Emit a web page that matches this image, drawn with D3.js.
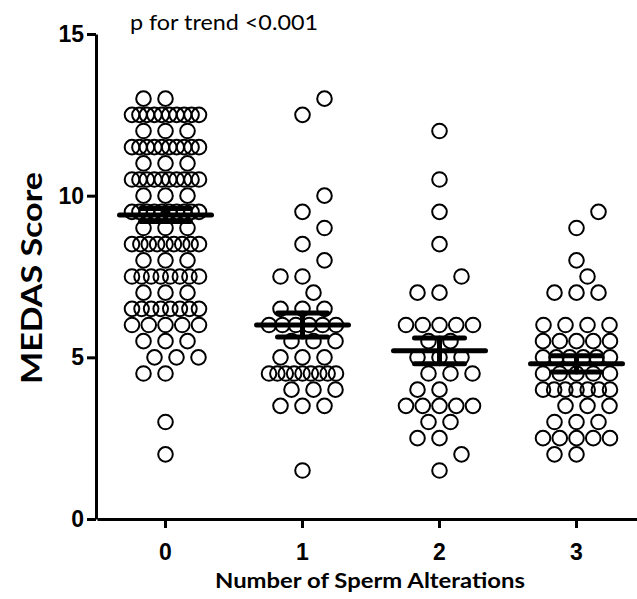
<!DOCTYPE html>
<html>
<head>
<meta charset="utf-8">
<script src="https://cdn.jsdelivr.net/npm/d3@7"></script>
<style>
  html, body { margin: 0; padding: 0; background: #fff; }
  svg { display: block; }
</style>
</head>
<body>
<svg id="chart" width="637" height="599"></svg>
<script>
// Categories on the x axis
const categories = ['0', '1', '2', '3'];

// MEDAS scores per group, as value -> number of subjects at that value
const group0 = [[13, 2], [12.5, 10], [12, 3], [11.5, 10], [11, 3], [10.5, 10], [10, 3], [9.5, 10],
    [9, 3], [8.5, 9], [8, 3], [7.5, 8], [7, 3], [6.5, 8], [6, 5], [5.5, 3], [5, 3], [4.5, 2], [3, 1], [2, 1]];
const group1 = [[13, 1], [12.5, 1], [10, 1], [9.5, 1], [9, 1], [8.5, 1], [8, 1], [7.5, 2], [7, 1],
    [6.5, 3], [6, 6], [5.5, 3], [5, 3], [4.5, 9], [4, 3], [3.5, 3], [1.5, 1]];
const group2 = [[12, 1], [10.5, 1], [9.5, 1], [8.5, 1], [7.5, 1], [7, 2], [6, 5], [5.5, 2], [5, 3],
    [4.5, 3], [4, 2], [3.5, 5], [3, 2], [2.5, 2], [2, 1], [1.5, 1]];
const group3 = [[9.5, 1], [9, 1], [8, 1], [7.5, 1], [7, 3], [6, 4], [5.5, 5], [5, 6], [4.5, 5],
    [4, 7], [3.5, 3], [3, 3], [2.5, 5], [2, 2]];
const groups = [group0, group1, group2, group3];

// Mean and SEM
const means = [9.4, 6.0, 5.2, 4.8];
const sems = [0.2, 0.37, 0.4, 0.25];

const yTicks = [0, 5, 10, 15];

const svg = d3.select('#chart');

const x = d3.scaleBand()
    .domain(categories)
    .range([97, 645]);

const y = d3.scaleLinear()
    .domain([0, 15])
    .range([519, 34]);

// Row based scatter layout, similar to Prism's column scatter
function layoutGroup(rows, cx) {
    const slot = 22;
    const maxSpan = 67;
    const minDist = 18;
    const sorted = rows.slice().sort((a, b) => a[0] - b[0]);
    const points = [];
    let prev = [];
    sorted.forEach(([v, k]) => {
        const py = y(v);
        let offs;
        if (k <= 3) {
            // odd counts centred, even counts one slot to the left
            const base = d3.range(k).map(i =>
                (k % 2 ? i - (k - 1) / 2 : i - k / 2) * slot);
            const shifts = [0, slot, -slot, slot / 2, -slot / 2];
            let chosen = 0;
            for (const s of shifts) {
                const ok = base.every(o => prev.every(p =>
                    Math.hypot(cx + o + s - p.x, py - p.y) >= minDist));
                if (ok) { chosen = s; break; }
            }
            offs = base.map(o => o + chosen);
        } else {
            const sp = Math.min(slot, maxSpan / (k - 1));
            offs = d3.range(k).map(i => (i - (k - 1) / 2) * sp);
        }
        const row = offs.map(o => ({ x: cx + o, y: py, v: v }));
        row.forEach(p => points.push(p));
        prev = row;
    });
    return points;
}

const allPoints = [];
groups.forEach((rows, gi) => {
    const cx = x(categories[gi]) + x.bandwidth() / 2;
    layoutGroup(rows, cx).forEach(p => allPoints.push(p));
});

// Points
svg.append('g')
    .selectAll('circle')
    .data(allPoints)
    .enter()
    .append('circle')
    .attr('cx', d => d.x)
    .attr('cy', d => d.y)
    .attr('r', 7.3)
    .attr('fill', 'none')
    .attr('stroke', '#000')
    .attr('stroke-width', 2);

// Mean and SEM bars
const stats = categories.map((c, i) => ({ cat: c, mean: means[i], sem: sems[i] }));
const barG = svg.append('g')
    .attr('stroke', '#000')
    .attr('stroke-linecap', 'round');

stats.forEach(d => {
    const cx = x(d.cat) + x.bandwidth() / 2;
    barG.append('line')
        .attr('x1', cx).attr('x2', cx)
        .attr('y1', y(d.mean + d.sem)).attr('y2', y(d.mean - d.sem))
        .attr('stroke-width', 5);
    [d.mean + d.sem, d.mean - d.sem].forEach(v => {
        barG.append('line')
            .attr('x1', cx - 25).attr('x2', cx + 25)
            .attr('y1', y(v)).attr('y2', y(v))
            .attr('stroke-width', 5);
    });
    barG.append('line')
        .attr('x1', cx - 46).attr('x2', cx + 46)
        .attr('y1', y(d.mean)).attr('y2', y(d.mean))
        .attr('stroke-width', 5);
});

// Axes
const xAxis = svg.append('g')
    .attr('transform', `translate(0, ${y(0)})`)
    .call(d3.axisBottom(x).tickSize(9).tickSizeOuter(0).tickPadding(16));

const yAxis = svg.append('g')
    .attr('transform', `translate(${x.range()[0] - 1}, 0)`)
    .call(d3.axisLeft(y).tickValues(yTicks).tickSize(9).tickSizeOuter(0).tickPadding(3));

[xAxis, yAxis].forEach(g => {
    g.selectAll('path, line')
        .attr('stroke', '#000')
        .attr('stroke-width', 3);
    g.selectAll('text')
        .attr('fill', '#000')
        .attr('font-family', '"Liberation Sans", Arial, sans-serif')
        .attr('font-weight', 'bold')
        .attr('font-size', '23px');
});

// Titles
svg.append('text')
    .attr('x', 370)
    .attr('y', 588)
    .attr('text-anchor', 'middle')
    .attr('font-family', 'Lato, "Open Sans", sans-serif')
    .attr('font-weight', 'bold')
    .attr('font-size', '20px')
    .attr('textLength', 310)
    .attr('lengthAdjust', 'spacingAndGlyphs')
    .text('Number of Sperm Alterations');

svg.append('text')
    .attr('transform', 'translate(42, 278) rotate(-90)')
    .attr('text-anchor', 'middle')
    .attr('font-family', 'Lato, "Open Sans", sans-serif')
    .attr('font-weight', 'bold')
    .attr('font-size', '29px')
    .attr('textLength', 212)
    .attr('lengthAdjust', 'spacingAndGlyphs')
    .text('MEDAS Score');

svg.append('text')
    .attr('x', 130)
    .attr('y', 30)
    .attr('font-family', 'Lato, "Open Sans", sans-serif')
    .attr('font-size', '21px')
    .attr('fill', '#000')
    .attr('textLength', 188)
    .attr('lengthAdjust', 'spacingAndGlyphs')
    .text('p for trend <0.001');
</script>
</body>
</html>
